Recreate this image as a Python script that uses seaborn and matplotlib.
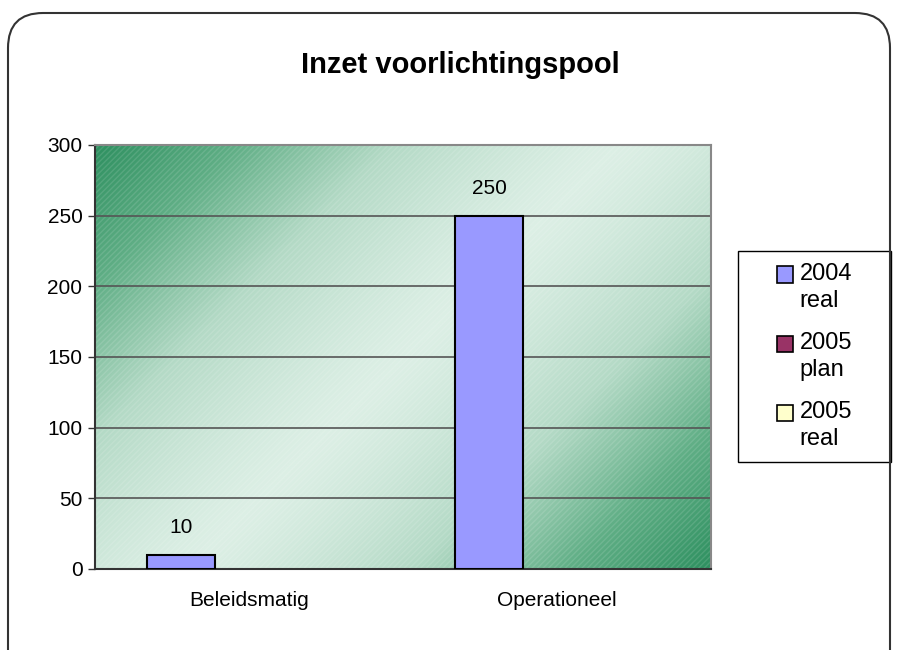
import numpy as np
import pandas as pd
import matplotlib.pyplot as plt
import seaborn as sns
from matplotlib.patches import Patch, FancyBboxPatch, Rectangle
from matplotlib.colors import LinearSegmentedColormap
from matplotlib.legend_handler import HandlerPatch

# 数据准备
categories = ['Beleidsmatig', 'Operationeel']
series = ['2004\nreal', '2005\nplan', '2005\nreal']
colors = ['#9999FF', '#993366', '#FFFFCC']
real_2004 = [10, 250]
plan_2005 = [np.nan, np.nan]
real_2005 = [np.nan, np.nan]
yticks = [0, 50, 100, 150, 200, 250, 300]

df = pd.DataFrame({
    'cat': categories * 3,
    'serie': [series[0]] * 2 + [series[1]] * 2 + [series[2]] * 2,
    'val': real_2004 + plan_2005 + real_2005,
})

sns.set_style('white')
plt.rcParams['font.family'] = ['Liberation Sans', 'DejaVu Sans']
plt.rcParams['text.color'] = 'black'
plt.rcParams['xtick.color'] = 'black'
plt.rcParams['ytick.color'] = 'black'

fig = plt.figure(figsize=(8.99, 6.5), dpi=100)
ax = fig.add_axes([95 / 899, 81 / 650, 616 / 899, 424 / 650])

# 渐变背景
nx, ny = 300, 200
gx, gy = np.meshgrid(np.linspace(0, 1, nx), np.linspace(0, 1, ny))
t = (gx + gy * 0.7) / 1.7
v = np.abs(t - 0.5) * 2
cmap = LinearSegmentedColormap.from_list('g', ['#DCEFE5', '#B4DAC6', '#5FAE85', '#2E9060'])
ax.imshow(v ** 1.3, cmap=cmap, extent=[-0.5, 1.5, 0, 300], aspect='auto',
          origin='upper', zorder=0, vmin=0, vmax=1)
ax.add_patch(Rectangle((-0.5, 0), 2, 300, fill=False, hatch='//////',
                       edgecolor=(1, 1, 1, 0.12), linewidth=0, zorder=0.5))

sns.barplot(data=df, x='cat', y='val', hue='serie', hue_order=series,
            palette=colors, saturation=1, width=0.66, edgecolor='black',
            linewidth=1.5, legend=False, ax=ax, zorder=3)

for c in ax.containers:
    labels = ['' if np.isnan(h) else f'{h:.0f}' for h in c.datavalues]
    ax.bar_label(c, labels=labels, padding=13, fontsize=15)

ax.set_xlim(-0.5, 1.5)
ax.set_ylim(0, 300)
ax.set_yticks(yticks)
ax.set_xlabel('')
ax.set_ylabel('')
ax.set_xticks([0, 1])
ax.set_xticklabels(categories)
ax.set_xticks([-0.5, 0.5, 1.5], minor=True)
ax.tick_params(axis='x', which='major', length=0, labelsize=15, pad=16)
ax.tick_params(axis='x', which='minor', length=6, width=1, color='#333333', direction='out')
ax.tick_params(axis='y', length=5, width=1, color='#333333', labelsize=15, direction='out',
               left=True, pad=4)
for y in yticks[1:-1]:
    ax.axhline(y, color='#555555', linewidth=1.2, zorder=1)
for s in ['left', 'bottom']:
    ax.spines[s].set_color('#333333')
    ax.spines[s].set_linewidth(1.5)
for s in ['top', 'right']:
    ax.spines[s].set_color('#888888')
    ax.spines[s].set_linewidth(1.5)

fig.text(460 / 899, 1 - 65 / 650, 'Inzet voorlichtingspool', ha='center', va='center',
         fontsize=21, fontweight='bold')


# 图例: 方块对齐第一行
def top_patch(legend, orig_handle, xdescent, ydescent, width, height, fontsize):
    return Rectangle((-xdescent, -ydescent + 0.55 * fontsize), width, height)


box = (738 / 899, 1 - 462 / 650, 153 / 899, 211 / 650)
fig.patches.append(Rectangle(box[:2], box[2], box[3], transform=fig.transFigure,
                             facecolor='white', edgecolor='black', linewidth=1.0))
handles = [Patch(facecolor=c, edgecolor='black', linewidth=1.2) for c in colors]
leg = fig.legend(handles, series, loc='center', bbox_to_anchor=box, fontsize=17,
                 frameon=False, handlelength=0.68, handleheight=0.68,
                 handletextpad=0.3, labelspacing=0.85, borderaxespad=0,
                 handler_map={Patch: HandlerPatch(patch_func=top_patch)})
for txt in leg.get_texts():
    txt.set_linespacing(1.3)

# 圆角外框
fig.patches.append(FancyBboxPatch((0.08, -0.5), 8.82, 6.87,
                                  boxstyle='round,pad=0,rounding_size=0.35',
                                  transform=fig.dpi_scale_trans, fill=False,
                                  edgecolor='#333333', linewidth=1.5))

fig.savefig('out.png', dpi=100)
